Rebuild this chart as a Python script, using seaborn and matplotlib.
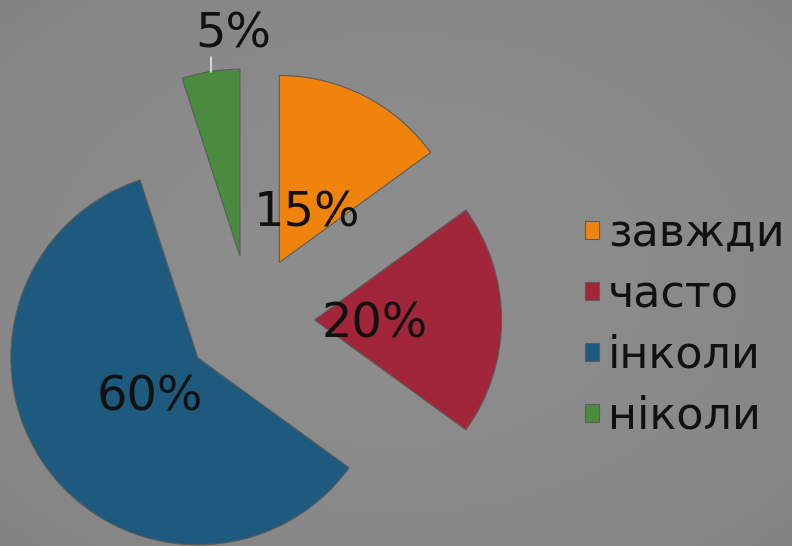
import numpy as np
import matplotlib.pyplot as plt
import seaborn as sns
from matplotlib.colors import LinearSegmentedColormap

# data
categories = ['завжди', 'часто', 'інколи', 'ніколи']
shares = [15, 20, 60, 5]
pct_labels = ['15%', '20%', '60%', '5%']
colors = ['#ef830c', '#a12639', '#1d5a7e', '#4b8b3f']

sns.set_theme(style='white')
plt.rcParams['font.family'] = ['DejaVu Sans']

fig = plt.figure(figsize=(7.92, 5.46), dpi=100)

# gray background, a bit darker towards the corners
bg = fig.add_axes([0, 0, 1, 1])
bg.axis('off')
yy, xx = np.mgrid[-1:1:300j, -1:1:400j]
bg_cmap = LinearSegmentedColormap.from_list('bg', ['#8d8d8d', '#838383'])
bg.imshow(xx**2 + yy**2, cmap=bg_cmap, vmin=0, vmax=2, aspect='auto')

ax = fig.add_axes([0, 0, 1, 1])
ax.patch.set_alpha(0)
wedges, _ = ax.pie(
    shares,
    colors=colors,
    startangle=90,
    counterclock=False,
    explode=[0.345] * len(shares),
    radius=1,
    wedgeprops=dict(edgecolor='#5c5c5c', linewidth=0.8)
)
ax.set_xlim(-1.337, 2.898)
ax.set_ylim(-1.209, 1.711)
ax.set_aspect('auto')
ax.axis('off')

# percentage labels
for w, txt in zip(wedges, pct_labels):
    ang = np.deg2rad((w.theta1 + w.theta2) / 2)
    cx, cy = w.center
    if txt == '5%':
        ox, oy = cx + w.r * np.cos(ang), cy + w.r * np.sin(ang)
        ax.plot([ox, ox], [oy, oy + 0.08], color='#e8e8e8', lw=1.2)
        ax.text(ox + 0.123, oy + 0.128, txt, ha='center', va='baseline',
                fontsize=34.5, color='#111111')
    else:
        ax.text(cx + 0.32 * w.r * np.cos(ang), cy + 0.32 * w.r * np.sin(ang) - 0.02,
                txt, ha='center', va='center', fontsize=34.5, color='#111111')

ax.legend(
    wedges, categories,
    loc='center left',
    bbox_to_anchor=(585 / 792, 1 - 325 / 546),
    bbox_transform=fig.transFigure,
    frameon=False,
    fontsize=32,
    handlelength=0.32,
    handleheight=0.25,
    handletextpad=0.2,
    labelspacing=0.4,
    borderpad=0,
    borderaxespad=0,
    labelcolor='#111111'
)

plt.savefig('out.png', dpi=100)
